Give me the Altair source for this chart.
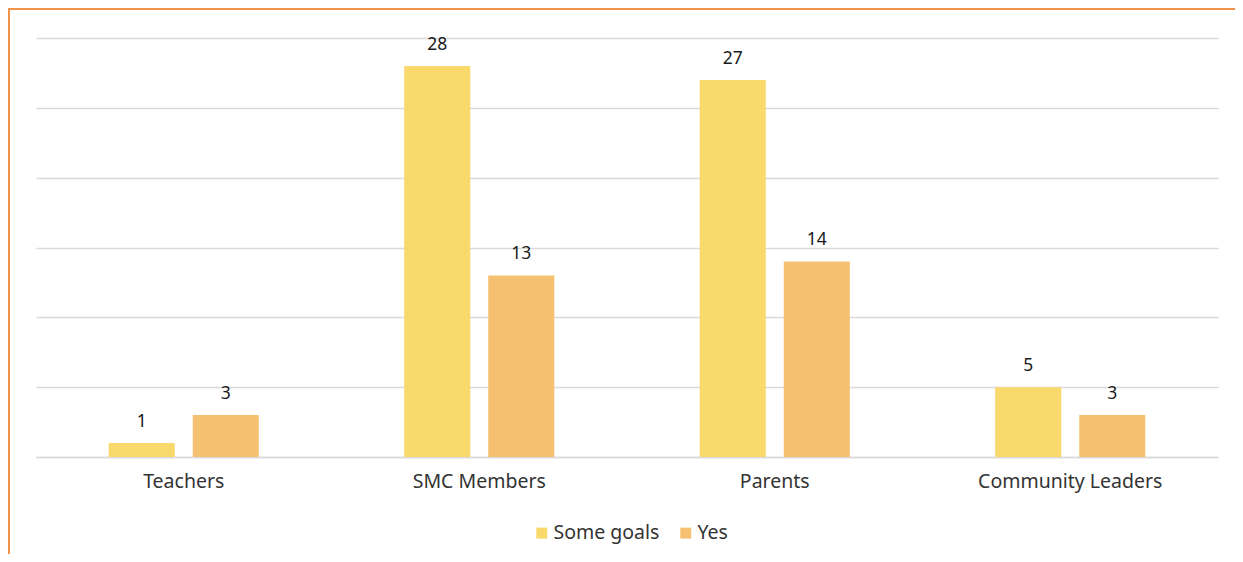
import altair as alt
import pandas as pd

categories = ["Teachers", "SMC Members", "Parents", "Community Leaders"]
some_goals = [1, 28, 27, 5]
yes = [3, 13, 14, 3]
series = ["Some goals", "Yes"]
colors = ["#F9D86C", "#F5C171"]

rows = []
for i, c in enumerate(categories):
    rows.append({"category": c, "series": "Some goals", "value": some_goals[i]})
    rows.append({"category": c, "series": "Yes", "value": yes[i]})
df = pd.DataFrame(rows)

FONT = "Noto Sans"

x_enc = alt.X(
    "category:N",
    sort=categories,
    scale=alt.Scale(paddingInner=0.492, paddingOuter=0.246),
    axis=alt.Axis(
        title=None, labelAngle=0, ticks=False, domain=True, domainColor="#D9D9D9",
        domainWidth=1.5, labelFontSize=19.5, labelColor="#333333", labelFont=FONT,
        labelPadding=15, grid=False, labelLimit=0,
    ),
)
xoff = alt.XOffset("series:N", sort=series, scale=alt.Scale(paddingInner=0.214, paddingOuter=0))
y_enc = alt.Y(
    "value:Q",
    scale=alt.Scale(domain=[0, 30]),
    axis=alt.Axis(
        title=None, labels=False, ticks=False, domain=False, values=[0, 5, 10, 15, 20, 25, 30],
        grid=True, gridColor="#D9D9D9", gridWidth=1.5,
    ),
)

bars = alt.Chart(df).mark_bar().encode(
    x=x_enc,
    xOffset=xoff,
    y=y_enc,
    color=alt.Color(
        "series:N",
        sort=series,
        scale=alt.Scale(domain=series, range=colors),
        legend=alt.Legend(
            title=None, orient="none", direction="horizontal", legendX=496, legendY=485,
            symbolType="square", symbolSize=120, symbolStrokeWidth=0, labelFontSize=19.5,
            labelColor="#333333", labelFont=FONT, columnPadding=16, symbolOffset=0,
            labelOffset=2,
        ),
    ),
)

labels = alt.Chart(df).mark_text(
    fontSize=17.5, font=FONT, color="#1a1a1a", baseline="middle", dy=-21
).encode(
    x=alt.X("category:N", sort=categories),
    xOffset=alt.XOffset("series:N", sort=series),
    y="value:Q",
    text="value:Q",
)

border_top = alt.Chart(df).mark_rule(color="#F0924A", strokeWidth=2).encode(
    x=alt.value(-28), x2=alt.value(1199), y=alt.value(-29)
)
border_left = alt.Chart(df).mark_rule(color="#F0924A", strokeWidth=2).encode(
    x=alt.value(-27), y=alt.value(-29), y2=alt.value(516)
)

chart = alt.layer(bars, labels, border_top, border_left).properties(
    width=1182,
    height=419,
    autosize=alt.AutoSizeParams(type="none"),
    padding={"left": 28, "top": 30, "right": 17, "bottom": 97},
).configure_view(stroke=None)

chart.save("out.html", embed_options={"renderer": "svg", "actions": False})
